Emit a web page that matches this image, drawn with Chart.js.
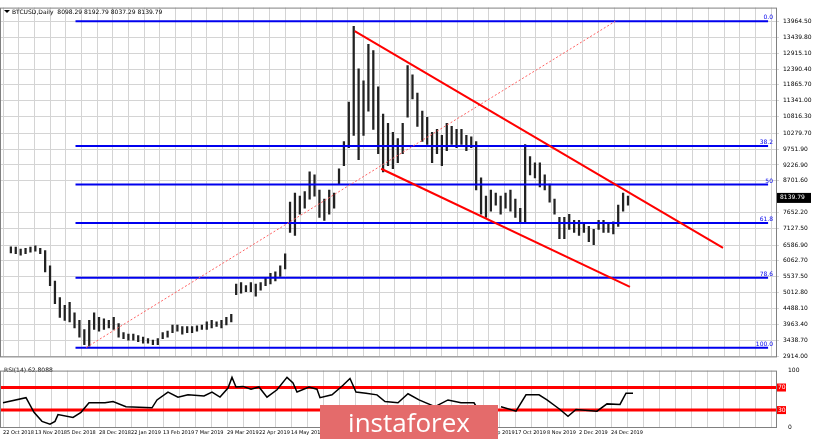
<!DOCTYPE html>
<html><head><meta charset="utf-8">
<script src="https://cdn.jsdelivr.net/npm/chart.js@4.4.0/dist/chart.umd.min.js"></script>
<style>
body{margin:0;background:#fff;width:820px;height:439px;overflow:hidden;position:relative;font-family:"DejaVu Sans",sans-serif}
#c1{position:absolute;left:0;top:0}
#c2{position:absolute;left:0;top:363px}
#wm{position:absolute;left:320px;top:405px;width:178px;height:34px;background:#e46b6b;color:#fff;font:26px "Open Sans",sans-serif;line-height:34px;text-align:center}
</style></head><body>
<canvas id="c1" width="820" height="364"></canvas>
<canvas id="c2" width="820" height="76"></canvas>
<div id="wm">instaforex</div>
<script>
// ---- data (x = bar sample index) ----
const lows = [6330,6300,6250,6300,6350,6380,6300,5700,5250,4650,4200,4100,4050,3850,3550,3300,3250,3800,3750,3800,3850,3800,3550,3500,3450,3450,3400,3350,3350,3300,3300,3500,3550,3700,3750,3650,3700,3700,3750,3800,3800,3850,3900,3850,3950,4050,4950,5000,5050,5050,4900,5100,5250,5300,5400,5550,5800,7000,6900,7600,7800,8100,8200,7500,7400,7600,7800,8600,9200,9800,10200,9400,10200,11000,10400,9600,9000,9200,9100,9300,9600,10800,11400,10500,10000,9900,9300,9600,9200,9700,9900,9800,9900,9700,9800,8400,7600,7500,7700,7900,7600,7800,7700,7500,7300,7300,8900,8800,8500,8400,8000,7600,6800,6800,7100,7000,6900,7000,6700,6600,7100,7000,7000,6950,7200,7700,7900];
const highs = [6530,6520,6450,6480,6520,6560,6480,6400,5900,5400,4850,4600,4700,4350,4100,3800,4100,4350,4200,4150,4100,4200,4000,3700,3650,3650,3600,3550,3500,3450,3500,3700,3750,3950,3950,3900,3900,3900,3920,3950,4050,4100,4050,4100,4200,4300,5300,5350,5250,5350,5300,5350,5500,5650,5700,5900,6300,8000,8300,8200,8350,9000,8900,8400,8100,8400,8300,9100,10000,11300,13800,12400,12000,13200,13000,11800,10900,10600,10300,10100,10600,12500,12200,11600,11000,10800,10300,10400,10200,10600,10500,10400,10400,10200,10150,10000,8800,8200,8400,8300,8200,8300,8400,8100,7800,9900,9500,9300,9300,8900,8600,8100,7500,7500,7600,7400,7400,7300,7200,7100,7400,7400,7300,7350,7900,8300,8200];
const fibLevels = [13964.5, 9852, 8582, 7312, 5504, 3200];
const fibNames = ["0.0","38.2","50","61.8","78.6","100.0"];
const yTicks = [13964.50,13439.80,12915.10,12390.40,11865.70,11341.00,10816.30,10279.70,9751.90,9226.90,8701.60,7652.20,7127.50,6586.90,6062.70,5537.50,5012.80,4488.10,3963.40,3438.70,2914.00];
const lastPrice = 8139.79;
const upperChannel = [[70.2,13642],[145.4,6494]];
const lowerChannel = [[75.6,9102],[126.4,5206]];
const fibDiagonal = [[15.4,3210],[123.4,13964]];
const rsiPoints = [[0,43],[4.6,52],[6.2,26],[7.8,10],[9.4,5],[10.4,10],[11,22],[14,17],[15.6,26],[17.2,43],[20.4,43],[22,45],[24.6,36],[29.8,34],[30.8,48],[33,62],[35,53],[37,57],[40.2,55],[41.8,62],[43.4,53],[45,69],[45.8,88],[46.6,71],[48,72],[49.6,67],[51.2,71],[52.8,53],[54.8,66],[56.8,88],[58,78],[58.8,62],[61.2,71],[62.8,67],[63.4,52],[65.8,57],[68,74],[69.4,86],[70.6,62],[72.6,60],[74.8,57],[76.4,45],[79,43],[81,59],[83.2,48],[86.4,36],[89,48],[91.6,43],[94.2,43],[95.2,28],[97.4,null],[99.6,36],[102.6,28],[104.6,57],[107.2,57],[108.8,48],[111.4,31],[113,19],[114.6,31],[118.8,28],[120.8,41],[123.4,40],[124.6,60],[126,60]];
const rsiLevels = [70,30];
const dateLabels = ["22 Oct 2018","13 Nov 2018","5 Dec 2018","28 Dec 2018","22 Jan 2019","13 Feb 2019","7 Mar 2019","29 Mar 2019","22 Apr 2019","14 May 2019","5 Jun 2019","27 Jun 2019","19 Jul 2019","12 Aug 2019","3 Sep 2019","25 Sep 2019","17 Oct 2019","8 Nov 2019","2 Dec 2019","24 Dec 2019"];

const XMIN=-0.6, XMAX=154.6, GRIDSTEP=3.2;
const gridTicks=[]; for(let k=0;k*GRIDSTEP<=XMAX;k++) gridTicks.push(k*GRIDSTEP);
const font={family:"DejaVu Sans",size:6};
const gridCfg={color:'#d4d4d4',borderDash:[1,2],drawTicks:false};

const candleData = lows.map((l,i)=>({x:i,y:[l,highs[i]]}));
const seg = (pts)=>pts.map(p=>({x:p[0],y:p[1]}));
const datasets=[{type:'bar',data:candleData,backgroundColor:'#222',barThickness:1.6,order:5}];
fibLevels.forEach(v=>datasets.push({type:'line',data:[{x:13.2,y:v},{x:XMAX,y:v}],borderColor:'#0000ee',borderWidth:2,pointRadius:0,order:3}));
datasets.push({type:'line',data:seg(upperChannel),borderColor:'#ff0000',borderWidth:2,pointRadius:0,order:1});
datasets.push({type:'line',data:seg(lowerChannel),borderColor:'#ff0000',borderWidth:2,pointRadius:0,order:1});
datasets.push({type:'line',data:seg(fibDiagonal),borderColor:'#ff6060',borderWidth:1,borderDash:[2,2],pointRadius:0,order:2});

const mainOverlay={id:'ov',afterDraw(ch){
  const c=ch.ctx,y=ch.scales.y,a=ch.chartArea;
  c.save();c.font='6px "DejaVu Sans"';c.fillStyle='#0000ee';c.textAlign='right';
  fibLevels.forEach((v,i)=>c.fillText(fibNames[i],a.right-3,y.getPixelForValue(v)-2));
  const py=y.getPixelForValue(lastPrice);
  c.fillStyle='#000';c.fillRect(a.right+1,py-5,34,10);
  c.fillStyle='#fff';c.textAlign='left';c.textBaseline='middle';c.fillText(lastPrice.toFixed(2),a.right+4,py);
  c.fillStyle='#000';c.textBaseline='alphabetic';
  c.beginPath();c.moveTo(4,10);c.lineTo(10,10);c.lineTo(7,13);c.fill();
  c.fillText('BTCUSD,Daily  8098.29 8192.79 8037.29 8139.79',12,14);
  c.strokeStyle='#808080';c.lineWidth=1;c.strokeRect(a.left+0.5,a.top+0.5,a.right-a.left,a.bottom-a.top);
  c.restore();
}};

new Chart(document.getElementById('c1'),{
  data:{datasets},
  options:{responsive:false,animation:false,layout:{padding:{top:5,left:0,right:0,bottom:0}},
    plugins:{legend:{display:false},tooltip:{enabled:false}},
    scales:{
      x:{type:'linear',min:XMIN,max:XMAX,afterBuildTicks:ax=>{ax.ticks=gridTicks.map(v=>({value:v}))},ticks:{display:false},grid:gridCfg,border:{display:false}},
      y:{position:'right',min:2914,max:14415,afterBuildTicks:ax=>{ax.ticks=yTicks.map(v=>({value:v}))},
        afterFit:ax=>{ax.width=44},ticks:{font,color:'#000',padding:4,callback:v=>v.toFixed(2)},grid:{...gridCfg,drawTicks:true,tickLength:3},border:{display:false}}
    }},
  plugins:[mainOverlay]
});

const rsiOverlay={id:'rov',afterDraw(ch){
  const c=ch.ctx,y=ch.scales.y,a=ch.chartArea;
  c.save();c.font='6px "DejaVu Sans"';
  rsiLevels.forEach(v=>{const py=y.getPixelForValue(v);
    c.fillStyle='#ff0000';c.fillRect(a.right+1,py-4,9,8);
    c.fillStyle='#fff';c.textAlign='left';c.textBaseline='middle';c.fillText(String(v),a.right+2,py);});
  c.fillStyle='#000';c.textBaseline='alphabetic';c.textAlign='left';
  c.fillText('RSI(14) 62.8088',4,9);
  c.strokeStyle='#808080';c.strokeRect(a.left+0.5,a.top+0.5,a.right-a.left,a.bottom-a.top);
  c.restore();
}};
const rsiData=rsiPoints.map(p=>({x:p[0],y:p[1]}));
const rsiDs=[{type:'line',data:rsiData,borderColor:'#000',borderWidth:1.5,pointRadius:0,spanGaps:false,order:1}];
rsiLevels.forEach(v=>rsiDs.push({type:'line',data:[{x:XMIN,y:v},{x:XMAX,y:v}],borderColor:'#ff0000',borderWidth:3,pointRadius:0,order:2}));
new Chart(document.getElementById('c2'),{
  data:{datasets:rsiDs},
  options:{responsive:false,animation:false,layout:{padding:{top:2,left:0,right:0,bottom:0}},
    plugins:{legend:{display:false},tooltip:{enabled:false}},
    scales:{
      x:{type:'linear',min:XMIN,max:XMAX,afterBuildTicks:ax=>{ax.ticks=gridTicks.map(v=>({value:v}))},
        ticks:{font:{family:"DejaVu Sans",size:5},color:'#000',maxRotation:0,autoSkip:false,padding:3,align:'start',
          callback:(v,i)=>i%2===0&&dateLabels[i/2]?dateLabels[i/2]:''},grid:gridCfg,border:{display:false}},
      y:{position:'right',min:0,max:100,afterBuildTicks:ax=>{ax.ticks=[0,100].map(v=>({value:v}))},
        afterFit:ax=>{ax.width=44},ticks:{font,color:'#000',padding:4},grid:{display:false},border:{display:false}}
    }},
  plugins:[rsiOverlay]
});
</script></body></html>
